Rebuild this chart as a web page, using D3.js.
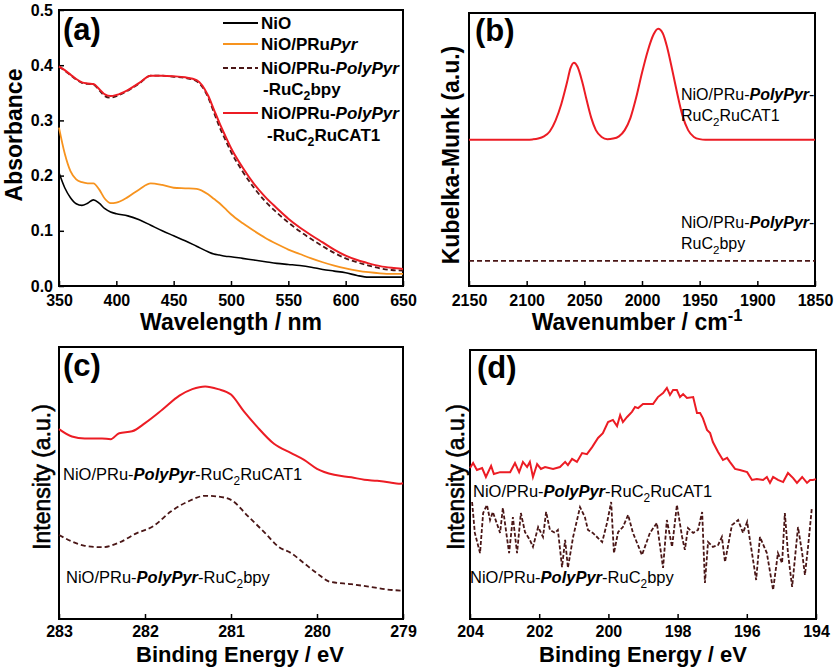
<!doctype html>
<html>
<head>
<meta charset="utf-8">
<script src="https://d3js.org/d3.v7.min.js"></script>
<style>
  body { margin: 0; background: #fff; }
  text { font-family: "Liberation Sans", Arial, sans-serif; fill: #000; }
</style>
</head>
<body>
<div id="chart"></div>
<script>
// ---- (a) UV-vis absorbance ----
var wavelength = [350,355,360,365,370,375,380,385,390,395,400,410,420,430,440,450,460,470,480,485,490,495,500,510,520,530,540,550,560,570,580,590,600,610,620,630,640,650];
var absNiO    = [.205,.178,.160,.149,.146,.150,.156,.150,.140,.134,.131,.127,.120,.110,.100,.091,.082,.072,.062,.058,.056,.054,.053,.050,.047,.044,.041,.039,.037,.034,.030,.027,.024,.019,.016,.016,.016,.016];
var absPyr    = [.287,.240,.208,.193,.188,.186,.186,.175,.158,.150,.151,.161,.175,.186,.183,.178,.177,.176,.166,.158,.150,.140,.130,.114,.100,.087,.076,.066,.058,.050,.043,.037,.032,.028,.025,.023,.022,.022];
var absBpy    = [.397,.390,.382,.374,.368,.366,.365,.355,.344,.341,.344,.354,.367,.381,.381,.379,.377,.371,.342,.315,.288,.265,.243,.208,.178,.153,.133,.115,.099,.085,.072,.060,.050,.043,.037,.032,.029,.028];
var absCat    = [.398,.391,.383,.375,.369,.367,.366,.357,.347,.344,.346,.355,.368,.381,.381,.380,.378,.373,.345,.320,.295,.272,.250,.215,.185,.161,.141,.122,.106,.092,.079,.066,.055,.047,.041,.036,.033,.031];
var absTicksX = [350,400,450,500,550,600,650];
var absTicksY = [0,0.1,0.2,0.3,0.4,0.5];

// ---- (b) DRIFT, Kubelka-Munk ----
var wavenumber = [2150,2100,2095,2090,2085,2080,2075,2070,2065,2062,2059,2056,2052,2048,2044,2040,2035,2030,2025,2020,2015,2010,2005,2000,1995,1990,1986,1982,1978,1974,1970,1965,1960,1955,1950,1945,1900,1850];
var kmCat = [.536,.536,.537,.540,.548,.566,.606,.666,.746,.798,.818,.804,.751,.681,.616,.571,.546,.538,.540,.548,.571,.616,.691,.781,.861,.921,.942,.926,.871,.796,.716,.626,.571,.546,.538,.536,.536,.536];
var wavenumberBpy = [2150,1850];
var kmBpy = [.092,.092];
var kmTicksX = [2150,2100,2050,2000,1950,1900,1850];

// ---- (c) XPS C1s / Ru3d ----
var beC    = [283,282.85,282.7,282.5,282.4,282.3,282.15,282.0,281.8,281.6,281.45,281.3,281.15,281.0,280.85,280.7,280.5,280.3,280.15,280.0,279.8,279.6,279.45,279.3,279.15,279.05,279.0];
var xpsCat = [.698,.671,.664,.664,.661,.683,.690,.720,.769,.821,.845,.855,.845,.825,.763,.708,.644,.610,.585,.552,.530,.521,.512,.508,.502,.497,.499];
var beCbpy = [283,282.85,282.7,282.5,282.3,282.1,281.9,281.7,281.5,281.3,281.15,281.0,280.8,280.6,280.45,280.3,280.15,280.0,279.85,279.6,279.4,279.2,279.0];
var xpsBpy = [.309,.285,.269,.264,.281,.315,.342,.395,.432,.453,.450,.438,.377,.315,.266,.242,.205,.168,.137,.128,.119,.109,.104];
var xpsCTicks = [283,282,281,280,279];

// ---- (d) XPS Cl 2p ----
var beD = [204.00,203.91,203.80,203.65,203.54,203.39,203.31,203.13,202.84,202.70,202.58,202.47,202.35,202.27,202.18,202.06,201.95,201.83,201.60,201.40,201.25,201.17,201.05,200.91,200.76,200.62,200.47,200.30,200.16,200.01,199.87,199.75,199.66,199.58,199.46,199.32,199.23,199.14,199.00,198.71,198.57,198.42,198.31,198.22,198.13,198.02,197.93,197.84,197.73,197.55,197.44,197.35,197.27,197.15,197.06,196.98,196.83,196.69,196.57,196.49,196.34,196.20,195.99,195.85,195.71,195.53,195.42,195.33,195.24,195.10,194.95,194.81,194.66,194.55,194.40,194.26,194.17,194.09,194.00];
var clCat = [.561,.580,.554,.561,.528,.569,.539,.546,.546,.580,.546,.584,.565,.584,.528,.576,.558,.565,.558,.565,.584,.572,.595,.584,.617,.613,.639,.673,.691,.732,.740,.717,.758,.732,.751,.770,.788,.784,.799,.799,.825,.840,.859,.833,.851,.851,.825,.836,.822,.825,.766,.766,.747,.703,.691,.658,.621,.591,.599,.584,.558,.554,.546,.517,.520,.517,.528,.506,.528,.517,.509,.543,.524,.506,.528,.506,.517,.517,.520];
var beDbpy = [203.94,203.86,203.71,203.62,203.51,203.42,203.34,203.13,203.05,202.87,202.76,202.64,202.53,202.41,202.27,202.18,202.03,201.89,201.80,201.69,201.54,201.46,201.34,201.25,201.17,201.02,200.82,200.68,200.59,200.45,200.18,200.04,199.92,199.84,199.72,199.58,199.43,199.29,199.03,198.80,198.60,198.42,198.31,198.16,198.02,197.87,197.79,197.70,197.55,197.41,197.29,197.21,197.12,196.98,196.83,196.72,196.63,196.43,196.25,196.11,195.99,195.85,195.73,195.62,195.42,195.24,195.10,194.98,194.90,194.81,194.69,194.52,194.40,194.32,194.23,194.12];
var clBpy = [.435,.320,.245,.394,.424,.368,.398,.320,.413,.245,.379,.245,.394,.323,.294,.268,.342,.305,.398,.331,.320,.331,.193,.294,.190,.305,.416,.379,.331,.320,.286,.357,.435,.245,.323,.342,.387,.320,.238,.320,.357,.190,.368,.268,.424,.305,.257,.338,.320,.331,.398,.134,.286,.268,.275,.305,.212,.349,.368,.320,.361,.245,.145,.305,.245,.108,.245,.208,.394,.245,.119,.342,.245,.164,.268,.413];
var xpsDTicks = [204,202,200,198,196,194];

var RED = "#ec1c24", ORANGE = "#f7931e", DARK = "#4a1616";
var FONT = '"Liberation Sans", Arial, sans-serif';

var svg = d3.select("#chart").append("svg")
    .attr("width", 835)
    .attr("height", 670);

// text with bold-italic and subscript / superscript parts
function richText(g, x, y, parts, size, weight) {
    var t = g.append("text")
        .attr("x", x).attr("y", y)
        .style("font-size", size + "px")
        .style("font-weight", weight || "normal");
    var shift = 0;
    parts.forEach(function(p) {
        var ts = t.append("tspan").text(p[0]);
        var dy = -shift;
        shift = 0;
        if (p[1] == "bi") ts.style("font-style", "italic").style("font-weight", "bold");
        if (p[1] == "sub") { shift = size * 0.3; ts.style("font-size", (size * 0.72) + "px"); }
        if (p[1] == "sup") { shift = -size * 0.4; ts.style("font-size", (size * 0.72) + "px"); }
        dy += shift;
        if (dy) ts.attr("dy", dy);
    });
    return t;
}

function panel(box, xDomain, yDomain, xTicks, yTicks, pad) {
    var x = d3.scaleLinear().domain(xDomain).range([box.x0, box.x1]);
    var y = d3.scaleLinear().domain(yDomain).range([box.y1, box.y0]);
    var ax = svg.append("g")
        .attr("transform", "translate(0," + box.y1 + ")")
        .call(d3.axisBottom(x).tickValues(xTicks).tickSizeInner(-5).tickSizeOuter(0).tickPadding(pad)
              .tickFormat(d3.format("d")));
    ax.select(".domain").remove();
    ax.selectAll("line").attr("stroke", "#000").attr("stroke-width", 1.5);
    ax.selectAll("text").style("font-family", FONT).style("font-size", "16px").style("font-weight", "bold");
    if (yTicks) {
        var ay = svg.append("g")
            .attr("transform", "translate(" + box.x0 + ",0)")
            .call(d3.axisLeft(y).tickValues(yTicks).tickSizeInner(-5).tickSizeOuter(0).tickPadding(6)
                  .tickFormat(d3.format(".1f")));
        ay.select(".domain").remove();
        ay.selectAll("line").attr("stroke", "#000").attr("stroke-width", 1.5);
        ay.selectAll("text").style("font-family", FONT).style("font-size", "16px").style("font-weight", "bold");
    }
    svg.append("rect")
        .attr("x", box.x0).attr("y", box.y0)
        .attr("width", box.x1 - box.x0).attr("height", box.y1 - box.y0)
        .attr("fill", "none").attr("stroke", "#000").attr("stroke-width", 2);
    return {x: x, y: y};
}

function drawLine(p, xs, ys, color, width, dash, curve) {
    var line = d3.line()
        .x(function(d, i) { return p.x(xs[i]); })
        .y(function(d) { return p.y(d); })
        .curve(curve || d3.curveLinear);
    svg.append("path")
        .datum(ys)
        .attr("d", line)
        .attr("fill", "none")
        .attr("stroke", color)
        .attr("stroke-width", width)
        .attr("stroke-dasharray", dash || null);
}

// ---------- (a) ----------
var pa = panel({x0: 59, x1: 403, y0: 10, y1: 286}, [350, 650], [0, 0.5], absTicksX, absTicksY, 9);
drawLine(pa, wavelength, absNiO, "#000", 1.6, null, d3.curveMonotoneX);
drawLine(pa, wavelength, absPyr, ORANGE, 1.8, null, d3.curveMonotoneX);
drawLine(pa, wavelength, absBpy, DARK, 1.8, "5,3", d3.curveMonotoneX);
drawLine(pa, wavelength, absCat, RED, 2, null, d3.curveMonotoneX);

svg.append("text").attr("x", 63).attr("y", 40).style("font-size", "31px").style("font-weight", "bold").text("(a)");
svg.append("text").attr("x", 231).attr("y", 330).attr("text-anchor", "middle")
    .style("font-size", "23px").style("font-weight", "bold").text("Wavelength / nm");
svg.append("text").attr("transform", "translate(22,135) rotate(-90)").attr("text-anchor", "middle")
    .style("font-size", "23px").style("font-weight", "bold").text("Absorbance");

// legend
var leg = svg.append("g");
function legLine(yy, color, dash) {
    leg.append("line").attr("x1", 223).attr("x2", 258).attr("y1", yy).attr("y2", yy)
        .attr("stroke", color).attr("stroke-width", 2).attr("stroke-dasharray", dash || null);
}
legLine(23, "#000");
legLine(44, ORANGE);
legLine(68, DARK, "5,3");
legLine(113, RED);
richText(leg, 261, 29, [["NiO", ""]], 17, "bold");
richText(leg, 261, 50, [["NiO/PRu", ""], ["Pyr", "bi"]], 17, "bold");
richText(leg, 261, 74, [["NiO/PRu-", ""], ["PolyPyr", "bi"]], 17, "bold");
richText(leg, 263, 95, [["-RuC", ""], ["2", "sub"], ["bpy", ""]], 17, "bold");
richText(leg, 261, 119, [["NiO/PRu-", ""], ["PolyPyr", "bi"]], 17, "bold");
richText(leg, 267, 141, [["-RuC", ""], ["2", "sub"], ["RuCAT1", ""]], 17, "bold");

// ---------- (b) ----------
var pb = panel({x0: 469, x1: 815, y0: 13, y1: 286}, [2150, 1850], [0, 1], kmTicksX, null, 9);
drawLine(pb, wavenumber, kmCat, RED, 2, null, d3.curveMonotoneX);
drawLine(pb, wavenumberBpy, kmBpy, DARK, 1.8, "5,3");
svg.append("text").attr("x", 475).attr("y", 41).style("font-size", "31px").style("font-weight", "bold").text("(b)");
richText(svg, 637, 330, [["Wavenumber / cm", ""], ["-1", "sup"]], 23, "bold").attr("text-anchor", "middle");
svg.append("text").attr("transform", "translate(459,155) rotate(-90)").attr("text-anchor", "middle")
    .style("font-size", "23px").style("font-weight", "bold").text("Kubelka-Munk (a.u.)");
richText(svg, 681, 100, [["NiO/PRu-", ""], ["PolyPyr", "bi"], ["-", ""]], 16);
richText(svg, 681, 121, [["RuC", ""], ["2", "sub"], ["RuCAT1", ""]], 16);
richText(svg, 681, 228, [["NiO/PRu-", ""], ["PolyPyr", "bi"], ["-", ""]], 16);
richText(svg, 681, 249, [["RuC", ""], ["2", "sub"], ["bpy", ""]], 16);

// ---------- (c) ----------
var pc = panel({x0: 59, x1: 403, y0: 347, y1: 619}, [283, 279], [0, 1], xpsCTicks, null, 7);
drawLine(pc, beC, xpsCat, RED, 2, null, d3.curveMonotoneX);
drawLine(pc, beCbpy, xpsBpy, DARK, 1.8, "5,3", d3.curveMonotoneX);
svg.append("text").attr("x", 63).attr("y", 376).style("font-size", "31px").style("font-weight", "bold").text("(c)");
svg.append("text").attr("x", 240).attr("y", 662).attr("text-anchor", "middle")
    .style("font-size", "22px").style("font-weight", "bold").text("Binding Energy / eV");
svg.append("text").attr("transform", "translate(50,477) rotate(-90)").attr("text-anchor", "middle")
    .style("font-size", "23px").style("stroke", "#000").style("stroke-width", 0.6).text("Intensity (a.u.)");
richText(svg, 63, 480, [["NiO/PRu-", ""], ["PolyPyr", "bi"], ["-RuC", ""], ["2", "sub"], ["RuCAT1", ""]], 16.5);
richText(svg, 66, 583, [["NiO/PRu-", ""], ["PolyPyr", "bi"], ["-RuC", ""], ["2", "sub"], ["bpy", ""]], 16.5);

// ---------- (d) ----------
var pd = panel({x0: 470, x1: 816, y0: 350, y1: 619}, [204, 194], [0, 1], xpsDTicks, null, 7);
drawLine(pd, beD, clCat, RED, 2);
drawLine(pd, beDbpy, clBpy, DARK, 1.8, "4,2");
svg.append("text").attr("x", 477).attr("y", 378).style("font-size", "31px").style("font-weight", "bold").text("(d)");
svg.append("text").attr("x", 643).attr("y", 662).attr("text-anchor", "middle")
    .style("font-size", "22px").style("font-weight", "bold").text("Binding Energy / eV");
svg.append("text").attr("transform", "translate(464,477) rotate(-90)").attr("text-anchor", "middle")
    .style("font-size", "23px").style("stroke", "#000").style("stroke-width", 0.6).text("Intensity (a.u.)");
richText(svg, 473, 497, [["NiO/PRu-", ""], ["PolyPyr", "bi"], ["-RuC", ""], ["2", "sub"], ["RuCAT1", ""]], 16.5);
richText(svg, 470, 583, [["NiO/PRu-", ""], ["PolyPyr", "bi"], ["-RuC", ""], ["2", "sub"], ["bpy", ""]], 16.5);
</script>
</body>
</html>
